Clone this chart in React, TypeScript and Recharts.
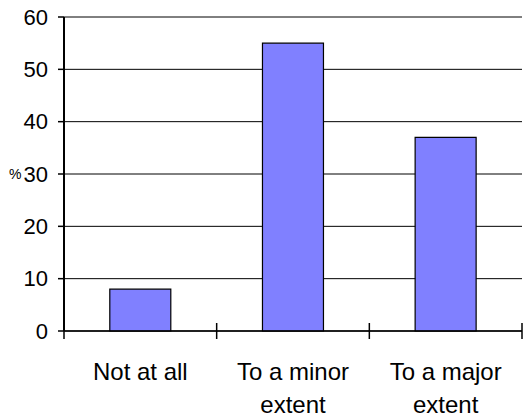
import React from 'react';
import { BarChart, Bar, XAxis, YAxis, CartesianGrid } from 'recharts';

// survey answers, share of respondents in %
const categories = ['Not at all', 'To a minor\nextent', 'To a major\nextent'];
const shares = [8, 55, 37];
const yTicks = [0, 10, 20, 30, 40, 50, 60];

const data = categories.map((name, i) => ({ name, share: shares[i] }));

const FONT = '"Liberation Sans", Arial, sans-serif';

// category name under each band (split on the line break), plus tick
// marks on the band boundaries that cross the axis line
const CategoryTick = (props: any) => {
  const { x, y, payload, index, visibleTicksCount } = props;
  const lines = String(payload.value).split('\n');
  const half = payload.offset ?? 0;
  const last = index === (visibleTicksCount ?? categories.length) - 1;
  return (
    <g>
      <line x1={x - half} x2={x - half} y1={y - 8} y2={y + 8} stroke="#000" strokeWidth={1.5} />
      {last && <line x1={x + half} x2={x + half} y1={y - 8} y2={y + 8} stroke="#000" strokeWidth={1.5} />}
      <text x={x} y={y + 49} textAnchor="middle" fontSize={24} fontFamily={FONT} fill="#000">
        {lines.map((line, i) => (
          <tspan key={i} x={x} dy={i === 0 ? 0 : 33}>
            {line}
          </tspan>
        ))}
      </text>
    </g>
  );
};

export default function App() {
  return (
    <div style={{ position: 'absolute', left: 0, top: 0, background: '#fff' }}>
      <BarChart
        width={523}
        height={417}
        data={data}
        margin={{ top: 17, right: 1, left: 0, bottom: 0 }}
        barCategoryGap="30%"
      >
        <CartesianGrid vertical={false} stroke="#000" strokeWidth={1} />
        <XAxis
          dataKey="name"
          height={86}
          axisLine={{ stroke: '#000', strokeWidth: 1.5 }}
          tickLine={false}
          tickSize={0}
          tickMargin={0}
          interval={0}
          tick={<CategoryTick />}
        />
        <YAxis
          domain={[0, 60]}
          ticks={yTicks}
          width={64}
          axisLine={{ stroke: '#000', strokeWidth: 2 }}
          tickLine={{ stroke: '#000', strokeWidth: 1.5 }}
          tickSize={6}
          tickMargin={10}
          tick={{ fontSize: 22, fill: '#000', fontFamily: FONT }}
          label={{ value: '%', position: 'insideLeft', offset: 9, fontSize: 14, fill: '#000', fontFamily: FONT }}
        />
        <Bar
          dataKey="share"
          fill="#8080FF"
          stroke="#000"
          strokeWidth={1.2}
          isAnimationActive={false}
        />
      </BarChart>
    </div>
  );
}
